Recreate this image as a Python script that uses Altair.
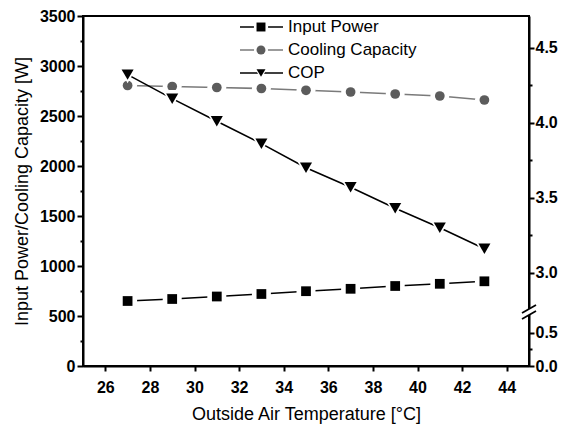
import altair as alt
import pandas as pd

# ---- data ----
temps = [27, 29, 31, 33, 35, 37, 39, 41, 43]
input_power = [650, 670, 695, 720, 748, 772, 800, 822, 847]
cooling_capacity = [2805, 2795, 2785, 2775, 2757, 2740, 2720, 2700, 2660]
cop = [4.32, 4.16, 4.01, 3.86, 3.70, 3.57, 3.43, 3.30, 3.16]
series = ["Input Power", "Cooling Capacity", "COP"]
x_ticks = [26, 28, 30, 32, 34, 36, 38, 40, 42, 44]
w_ticks = list(range(0, 3501, 250))

# broken right axis: upper segment is linear COP; lower segment 0..0.5 compressed
cop_lo = 2.378          # COP-scale value at the bottom of the plot ("0.0")
cop_hi = 4.711
lower_ratio = 0.44      # lower-segment units per COP-scale unit
lower_ticks = [0.0, 0.25, 0.5]
upper_ticks = [3.0, 3.25, 3.5, 3.75, 4.0, 4.25, 4.5]
cop_axis_values = [round(cop_lo + v * lower_ratio, 4) for v in lower_ticks] + upper_ticks

FONT = "Liberation Sans"

df_w = pd.DataFrame({
    "temp": temps * 2,
    "value": input_power + cooling_capacity,
    "series": [series[0]] * len(temps) + [series[1]] * len(temps),
})
df_cop = pd.DataFrame({"temp": temps, "cop": cop, "series": series[2]})
df_leg = pd.DataFrame({"series": series, "row": list(range(len(series)))})
df_one = pd.DataFrame({"k": [0]})

line_color = alt.Scale(domain=series, range=["#000000", "#7a7a7a", "#000000"])
fill_color = alt.Scale(domain=series, range=["#000000", "#5c5c5c", "#000000"])
shape_scale = alt.Scale(domain=series, range=["square", "circle", "triangle-down"])

x_scale = alt.Scale(domain=[25, 45], nice=False, zero=False)

x_axis = alt.Axis(
    values=x_ticks, title="Outside Air Temperature [°C]", grid=False,
    labelFont=FONT, labelFontSize=16, labelFontWeight="bold", labelColor="black",
    titleFont=FONT, titleFontSize=18, titleFontWeight="normal", titleColor="black",
    tickSize=5, tickWidth=2, tickColor="black", domainColor="black", domainWidth=2,
    labelPadding=8, titlePadding=10, labelFlush=False,
)

y_axis = alt.Axis(
    values=w_ticks, title="Input Power/Cooling Capacity [W]", grid=False,
    labelExpr="datum.value % 500 == 0 ? format(datum.value, 'd') : ''",
    tickSize={"condition": {"test": "datum.value % 500 != 0", "value": 3}, "value": 6},
    labelFont=FONT, labelFontSize=16, labelFontWeight="bold", labelColor="black",
    titleFont=FONT, titleFontSize=18, titleFontWeight="normal", titleColor="black",
    tickWidth=2, tickColor="black", domainColor="black", domainWidth=2,
    labelPadding=2, titlePadding=8, labelFlush=False,
)

major_test = ("datum.value < {lo} || abs(datum.value - {half}) < 0.01 || "
              "(datum.value >= 2.9 && abs(datum.value*2 - round(datum.value*2)) < 0.01)").format(
    lo=cop_lo + 0.05, half=round(cop_lo + 0.5 * lower_ratio, 4))
label_expr = ("datum.value < {lo} ? '0.0' : abs(datum.value - {half}) < 0.01 ? '0.5' : "
              "(datum.value >= 2.9 && abs(datum.value*2 - round(datum.value*2)) < 0.01) ? "
              "format(datum.value, '.1f') : ''").format(
    lo=cop_lo + 0.05, half=round(cop_lo + 0.5 * lower_ratio, 4))

cop_axis = alt.Axis(
    orient="right", values=cop_axis_values, title=None, grid=False,
    labelExpr=label_expr,
    tickSize={"condition": {"test": major_test, "value": 5}, "value": 3},
    labelFont=FONT, labelFontSize=16, labelFontWeight="bold", labelColor="black",
    tickWidth=2, tickColor="black", domainColor="black", domainWidth=2,
    labelPadding=1, labelFlush=False,
)

# ---- W layer ----
bw = alt.Chart(df_w)
w_x = alt.X("temp:Q", scale=x_scale, axis=x_axis)
w_y = alt.Y("value:Q", scale=alt.Scale(domain=[0, 3500], nice=False), axis=y_axis)
w_lines = bw.mark_line(strokeWidth=1.6).encode(
    x=w_x, y=w_y, color=alt.Color("series:N", scale=line_color, legend=None))
w_halo = bw.mark_point(filled=True, opacity=1, color="white", size=360, strokeWidth=0).encode(
    x=w_x, y=w_y, shape=alt.Shape("series:N", scale=shape_scale, legend=None))
w_pts = bw.mark_point(filled=True, opacity=1, size=95, strokeWidth=0).encode(
    x=w_x, y=w_y,
    shape=alt.Shape("series:N", scale=shape_scale, legend=None),
    fill=alt.Fill("series:N", scale=fill_color, legend=None))
w_layer = alt.layer(w_lines, w_halo, w_pts)

# ---- COP layer ----
bc = alt.Chart(df_cop)
c_x = alt.X("temp:Q", scale=x_scale, axis=x_axis)
c_y = alt.Y("cop:Q", scale=alt.Scale(domain=[cop_lo, cop_hi], nice=False, zero=False), axis=cop_axis)
c_line = bc.mark_line(strokeWidth=1.6, color="black").encode(x=c_x, y=c_y)
c_halo = bc.mark_point(filled=True, opacity=1, color="white", size=400, strokeWidth=0).encode(
    x=c_x, y=c_y, shape=alt.Shape("series:N", scale=shape_scale, legend=None))
c_pts = bc.mark_point(filled=True, opacity=1, size=145, strokeWidth=0).encode(
    x=c_x, y=c_y,
    shape=alt.Shape("series:N", scale=shape_scale, legend=None),
    fill=alt.Fill("series:N", scale=fill_color, legend=None))
c_layer = alt.layer(c_line, c_halo, c_pts)

# ---- manual legend ----
bl = alt.Chart(df_leg)
l_y = alt.Y("row:Q", scale=alt.Scale(domain=[0, 2], range=[11, 57]), axis=None)
l_rule = bl.mark_rule(strokeWidth=1.6).encode(
    x=alt.value(157), x2=alt.value(200), y=l_y,
    color=alt.Color("series:N", scale=line_color, legend=None))
l_halo = bl.mark_point(filled=True, opacity=1, color="white", size=200, strokeWidth=0).encode(
    x=alt.value(178), y=l_y, shape=alt.Shape("series:N", scale=shape_scale, legend=None))
l_pts = bl.mark_point(filled=True, opacity=1, size=80, strokeWidth=0).encode(
    x=alt.value(178), y=l_y,
    shape=alt.Shape("series:N", scale=shape_scale, legend=None),
    fill=alt.Fill("series:N", scale=fill_color, legend=None))
l_text = bl.mark_text(align="left", baseline="middle", font=FONT, fontSize=17, color="black").encode(
    x=alt.value(205), y=l_y, text="series:N")
l_layer = alt.layer(l_rule, l_halo, l_pts, l_text)

# ---- axis break marker on the right axis ----
bb = alt.Chart(df_one)
gap = bb.mark_rule(color="white", strokeWidth=6).encode(
    x=alt.value(446), y=alt.value(293), y2=alt.value(299))
slash1 = bb.mark_rule(color="black", strokeWidth=1.8).encode(
    x=alt.value(439), x2=alt.value(453), y=alt.value(297), y2=alt.value(289))
slash2 = bb.mark_rule(color="black", strokeWidth=1.8).encode(
    x=alt.value(439), x2=alt.value(453), y=alt.value(303), y2=alt.value(295))
b_layer = alt.layer(gap, slash1, slash2)

chart = alt.layer(w_layer, c_layer, l_layer, b_layer).resolve_scale(
    y="independent"
).properties(
    width=446, height=350,
    padding={"left": 83, "top": 16, "right": 36, "bottom": 62},
    autosize=alt.AutoSizeParams(type="none"),
    background="white",
).configure_view(stroke="black", strokeWidth=2)

chart.save("out.html", embed_options={"renderer": "svg", "actions": False})
